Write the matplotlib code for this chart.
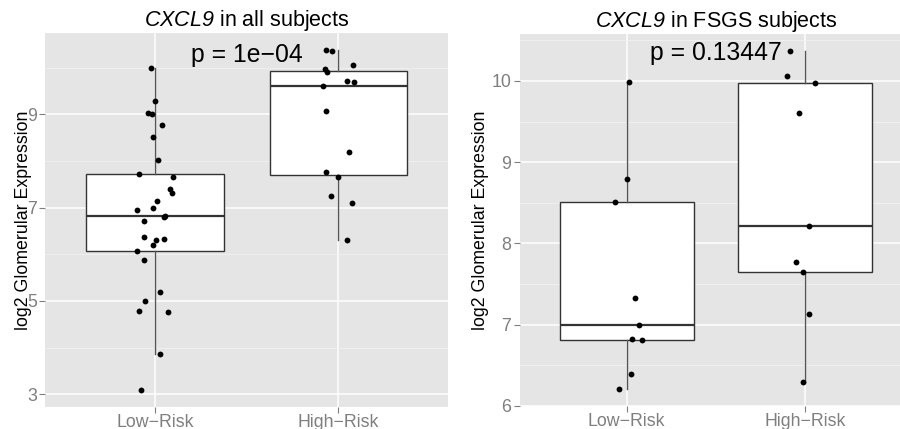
import matplotlib
matplotlib.use('Agg')
import matplotlib.pyplot as plt
import numpy as np

plt.rcParams['font.family'] = ['Liberation Sans', 'DejaVu Sans']
# mathtext is only used for the italic gene name in the titles
plt.rcParams['mathtext.fontset'] = 'custom'
plt.rcParams['mathtext.it'] = 'Liberation Sans:italic'
plt.rcParams['mathtext.rm'] = 'Liberation Sans:italic'

groups = ['Low\u2212Risk', 'High\u2212Risk']

# CXCL9, all subjects
all_low = [9.99, 9.29, 9.02, 9.00, 8.77, 8.51, 8.03, 7.72, 7.65, 7.41, 7.32, 7.15, 7.00, 6.94,
           6.83, 6.81, 6.72, 6.38, 6.33, 6.30, 6.20, 6.06, 5.87, 5.19, 5.00, 4.78, 4.76, 3.86, 3.09]
all_low_jit = [-0.022, 0.0, -0.040, -0.015, 0.037, -0.011, 0.018, -0.087, 0.095, 0.082, 0.093, 0.011,
               -0.011, -0.100, 0.055, 0.050, -0.060, -0.060, 0.049, 0.004, -0.011, -0.100, -0.060,
               0.029, -0.056, -0.086, 0.071, 0.027, -0.075]
all_high = [10.38, 10.36, 10.06, 9.97, 9.91, 9.72, 9.70, 9.60, 9.07, 8.20, 7.76, 7.65, 7.24, 7.11, 6.31]
all_high_jit = [-0.069, -0.035, 0.078, -0.073, -0.064, 0.046, 0.086, -0.084, -0.069, 0.057, -0.067,
                0.0, -0.042, 0.075, 0.046]

# CXCL9, FSGS subjects
fsgs_low = [9.99, 8.79, 8.51, 7.33, 7.00, 6.83, 6.81, 6.39, 6.21]
fsgs_low_jit = [0.013, 0.002, -0.064, 0.049, 0.067, 0.028, 0.084, 0.024, -0.043]
fsgs_high = [10.37, 10.06, 9.97, 9.60, 8.22, 7.77, 7.65, 7.13, 6.30]
fsgs_high_jit = [-0.084, -0.100, 0.058, -0.032, 0.024, -0.052, -0.010, 0.021, -0.010]

p_all = 'p = 1e\u221204'
p_fsgs = 'p = 0.13447'


def panel(ax, data, jitter, title, ptext, py, major, minor, label_x):
    ax.set_facecolor('#E5E5E5')
    ax.boxplot(data, positions=[1, 2], widths=0.75, whis=1.5, showfliers=False,
               showcaps=False, patch_artist=True,
               boxprops=dict(facecolor='white', edgecolor='#333333', linewidth=1),
               medianprops=dict(color='#333333', linewidth=1.6),
               whiskerprops=dict(color='#555555', linewidth=1), zorder=2)
    for i, (vals, dx) in enumerate(zip(data, jitter)):
        ax.plot(i + 1 + np.array(dx), vals, 'o', color='black', ms=4.2, mec='none', zorder=3)

    lo = min(min(d) for d in data)
    hi = max(max(d) for d in data)
    pad = 0.05 * (hi - lo)
    ax.set_ylim(lo - pad, hi + pad)
    ax.set_xlim(0.4, 2.6)

    ax.set_xticks([1, 2])
    ax.set_xticklabels(groups)
    ax.set_yticks(major)
    ax.set_yticks(minor, minor=True)
    ax.set_axisbelow(True)
    ax.grid(which='major', color='white', linewidth=1.1)
    ax.grid(which='minor', axis='y', color='#F2F2F2', linewidth=0.6)
    ax.tick_params(which='major', colors='#7F7F7F', labelsize=12.8, length=4, width=0.8, pad=2)
    ax.tick_params(axis='x', pad=1)
    ax.tick_params(which='minor', length=0)
    for s in ax.spines.values():
        s.set_visible(False)

    ax.set_ylabel('log2 Glomerular Expression', fontsize=12.8, color='black')
    ax.yaxis.set_label_coords(label_x, 0.5)
    ax.set_title(title, fontsize=15.5, pad=5)
    ax.text(1.5, py, ptext, ha='center', va='center', fontsize=17.8, zorder=4)


fig = plt.figure(figsize=(9, 4.29), dpi=100)
ax1 = fig.add_axes([45.2 / 900, 22 / 429, 403 / 900, 374 / 429])
ax2 = fig.add_axes([519.7 / 900, 23 / 429, 392.3 / 900, 372 / 429])

panel(ax1, [all_low, all_high], [all_low_jit, all_high_jit],
      r'$\mathit{CXCL9}$ in all subjects', p_all, 10.27,
      [3, 5, 7, 9], [4, 6, 8, 10], -0.033)
panel(ax2, [fsgs_low, fsgs_high], [fsgs_low_jit, fsgs_high_jit],
      r'$\mathit{CXCL9}$ in FSGS subjects', p_fsgs, 10.34,
      [6, 7, 8, 9, 10], [6.5, 7.5, 8.5, 9.5, 10.5], -0.078)

fig.savefig('out.png', dpi=100)
